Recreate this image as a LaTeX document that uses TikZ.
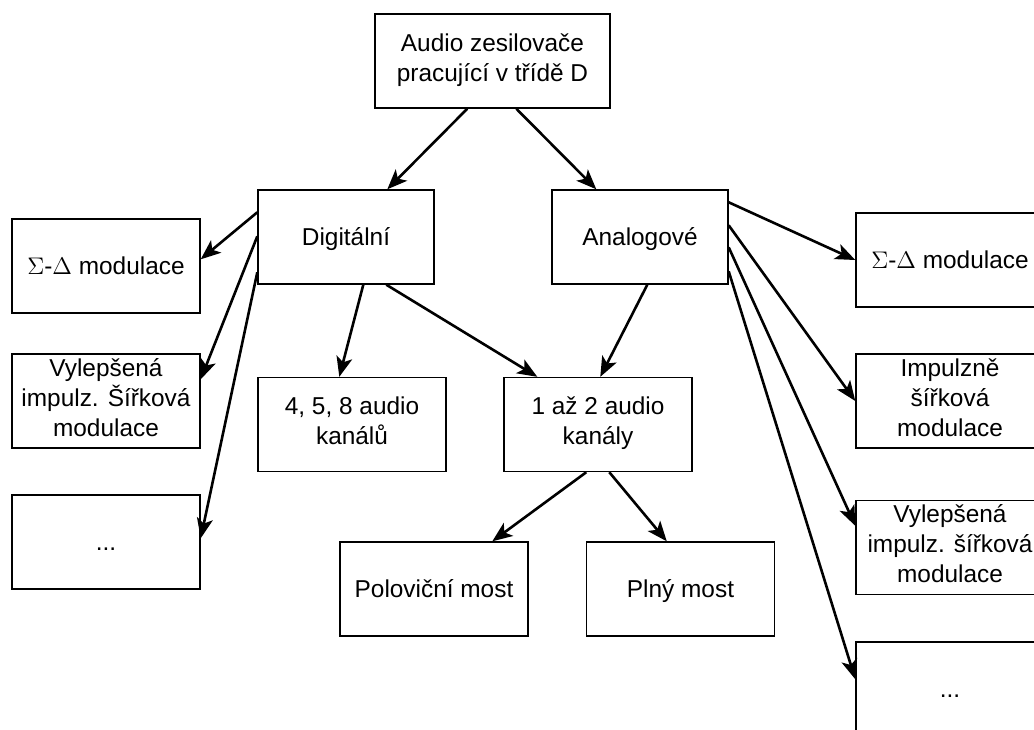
\documentclass[tikz,border=0pt]{standalone}
\usepackage{fontspec}
\setmainfont{Liberation Sans}
\usetikzlibrary{arrows.meta, calc}

\newcommand\boxstrut{\rule[-3.5pt]{0pt}{15pt}}

\begin{document}
\begin{tikzpicture}[
  x=0.5pt, y=-0.5pt,
  >={Stealth[length=10pt, width=8pt, inset=2.5pt]},
  every node/.style={font=\fontsize{12.2}{15}\selectfont},
  box/.style={draw, line width=0.7pt, minimum width=94pt, minimum height=47pt, inner sep=0pt, align=center,
    execute at begin node=\boxstrut, execute at end node=\boxstrut},
  midbox/.style={box, minimum width=88pt},
  topbox/.style={box, minimum width=117.5pt},
  link/.style={->, line width=1.3pt},
]
\useasboundingbox (0,0) rectangle (1034,729);

% Root
\node[topbox] (top) at (492.5,61) {Audio zesilovače\\pracující v třídě D};

% Two main branches
\node[midbox] (dig) at (346,237) {Digitální};
\node[midbox] (ana) at (640,237) {Analogové};

% Left column (digital modulations)
\node[box] (lsd) at (106,266) {$\Sigma$-$\Delta$ modulace};
\node[box] (lvyl) at (106,401) {Vylepšená\\impulz. Šířková\\modulace};
\node[box] (ldots) at (106,542) {...};

% Channels
\node[box] (kan458) at (352,424.5) {4, 5, 8 audio\\kanálů};
\node[box] (kan12) at (598,424.5) {1 až 2 audio\\kanály};

% Bridges
\node[box] (half) at (434,589) {Poloviční most};
\node[box] (full) at (680.5,589) {Plný most};

% Right column (analog modulations)
\node[box] (rsd) at (950,260) {$\Sigma$-$\Delta$ modulace};
\node[box] (rimp) at (950,401) {Impulzně\\šířková\\modulace};
\node[box] (rvyl) at (950,547.5) {Vylepšená\\impulz. šířková\\modulace};
\node[box] (rdots) at (950,689) {...};

% Root to branches
\draw[link] ($(top.south west)+(93,0)$) -- ($(dig.north west)+(130,0)$);
\draw[link] ($(top.south west)+(142,0)$) -- ($(ana.north west)+(45,0)$);

% Digital
\draw[link] ($(dig.north west)+(0,23)$) -- ($(lsd.north east)+(0,41)$);
\draw[link] ($(dig.north west)+(0,47)$) -- ($(lvyl.north east)+(0,26)$);
\draw[link] ($(dig.north west)+(0,83)$) -- ($(ldots.north east)+(0,44)$);
\draw[link] ($(dig.south west)+(106,0)$) -- ($(kan458.north west)+(82,0)$);
\draw[link] ($(dig.south west)+(129,0)$) -- ($(kan12.north west)+(34,0)$);

% Analog
\draw[link] ($(ana.south west)+(96,0)$) -- ($(kan12.north west)+(97,0)$);
\draw[link] ($(ana.north east)+(0,13)$) -- (rsd.west);
\draw[link] ($(ana.north east)+(0,36)$) -- (rimp.west);
\draw[link] ($(ana.north east)+(0,58)$) -- ($(rvyl.north west)+(0,26)$);
\draw[link] ($(ana.north east)+(0,82)$) -- ($(rdots.north west)+(0,38)$);

% Channels to bridges
\draw[link] ($(kan12.south west)+(83,0)$) -- ($(half.north west)+(153,0)$);
\draw[link] ($(kan12.south west)+(106,0)$) -- ($(full.north west)+(81,0)$);

\end{tikzpicture}
\end{document}
